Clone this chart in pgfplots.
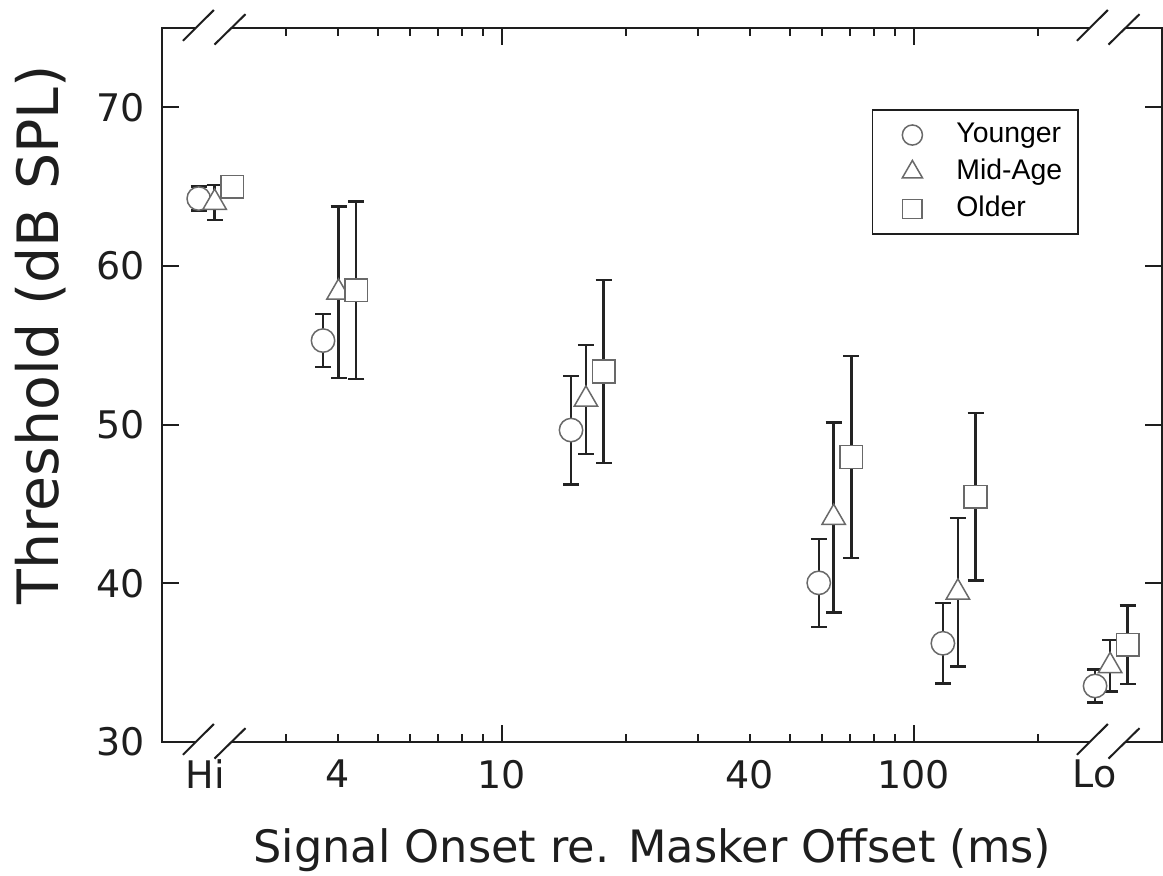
\documentclass[border=0pt]{standalone}
\usepackage{fontspec}
\setmainfont{DejaVu Sans}
\newfontfamily\legfont{Liberation Sans}
\usepackage{pgfplots}
\pgfplotsset{compat=1.18}
\usepackage{pgfplotstable}
\definecolor{axcol}{RGB}{30,30,30}
\definecolor{ebcol}{RGB}{35,35,35}
\definecolor{mkcol}{RGB}{105,105,105}

% x = signal onset (ms, Hi/Lo placed at break positions), y = threshold, e = error
\pgfplotstableread{
x y e
1.837 64.25 0.76
3.681 55.30 1.67
14.73 49.66 3.42
58.85 40.03 2.78
117.8 36.22 2.53
275.9 33.53 1.05
}\young
\pgfplotstableread{
x y e
2.008 64.00 1.12
4.014 58.34 5.41
16.01 51.59 3.43
63.97 44.14 5.99
128.1 39.43 4.68
300.1 34.80 1.63
}\mid
\pgfplotstableread{
x y e
2.214 65.00 0.50
4.432 58.47 5.60
17.68 53.35 5.78
70.60 47.96 6.38
141.4 45.45 5.28
331.1 36.13 2.47
}\old

\pgfplotsset{
  mylegimg/.style={legend image code/.code={
    \path[draw=none, fill=none] (-12pt,-6pt) rectangle (6pt,6pt);
    \draw[##1, every mark/.append style={scale=0.86}] plot coordinates {(0pt,0pt)};}},
  ebars/.style={forget plot, only marks, mark=none,
    error bars/.cd, y dir=both, y explicit, error mark=-,
    error bar style={line width=1.2pt, ebcol},
    error mark options={rotate=90, line width=1.2pt, ebcol, mark size=4pt}},
}

\begin{document}
\begin{tikzpicture}
\useasboundingbox (-81.25pt,-67pt) rectangle (500.25pt,371pt);
\begin{axis}[
  at={(0pt,0pt)}, anchor=south west,
  scale only axis, width=499.5pt, height=357pt,
  xmode=log, xmin=1.5, xmax=400, ymin=30, ymax=75,
  axis line style={line width=1pt, axcol},
  tick style={line width=1pt, axcol},
  major tick length=8.5pt, minor tick length=4pt,
  xtick={10,100}, xticklabels={10,100},
  minor xtick={3,4,5,6,7,8,9,20,30,40,50,60,70,80,90,200},
  extra x ticks={1.907,4,40,275.3},
  extra x tick labels={Hi,4,40,Lo},
  extra x tick style={major tick length=0pt},
  ytick={30,40,50,60,70}, yticklabels={30,40,50,60,70},
  minor ytick={},
  ticklabel style={font=\fontsize{19}{22}\selectfont, text=axcol},
  xticklabel style={yshift=-5.4pt},
  yticklabel style={xshift=-5.4pt},
  xlabel={Signal Onset re. Masker Offset (ms)},
  ylabel={Threshold (dB SPL)},
  xlabel style={at={(axis description cs:0.4905,-0.1681)}, anchor=base,
    font=\fontsize{22.3}{26}\selectfont, text=axcol},
  ylabel style={at={(axis description cs:-0.1046,0.570)}, anchor=base,
    font=\fontsize{28.5}{32}\selectfont, text=axcol},
  legend style={at={(0.7099,0.8861)}, anchor=north west, draw=axcol,
    line width=0.7pt, inner xsep=8pt, inner ysep=5.5pt, row sep=4.5pt,
    font=\legfont\fontsize{14.2}{17}\selectfont,
    nodes={inner sep=0pt, text height=10.5pt, text depth=3.5pt},
    /tikz/every odd column/.append style={column sep=16pt}},
  legend cell align=left,
]
\addplot[ebars] table[x=x, y=y, y error=e]{\young};
\addplot[ebars] table[x=x, y=y, y error=e]{\mid};
\addplot[ebars] table[x=x, y=y, y error=e]{\old};

\addplot[only marks, mark=*, mark size=5.85pt,
  mark options={fill=white, draw=mkcol, line width=0.75pt}, mylegimg]
  table[x=x, y=y]{\young};
\addlegendentry{Younger}
\addplot[only marks, mark=triangle*, mark size=6.75pt,
  mark options={fill=white, draw=mkcol, line width=0.75pt}, mylegimg]
  table[x=x, y=y]{\mid};
\addlegendentry{Mid-Age}
\addplot[only marks, mark=square*, mark size=5.65pt,
  mark options={fill=white, draw=mkcol, line width=0.75pt}, mylegimg]
  table[x=x, y=y]{\old};
\addlegendentry{Older}
\end{axis}
% axis breaks
\foreach \yy in {0pt,357pt}{
  \fill[white] (16.6pt,\yy-1.6pt) rectangle (34.5pt,\yy+1.6pt);
  \fill[white] (463.6pt,\yy-1.6pt) rectangle (481.5pt,\yy+1.6pt);
  \draw[line width=1pt, axcol] (10.2pt,\yy-6.4pt) -- (25.7pt,\yy+9.0pt);
  \draw[line width=1pt, axcol] (26pt,\yy-8.3pt) -- (41.5pt,\yy+6.9pt);
  \draw[line width=1pt, axcol] (457.2pt,\yy-6.4pt) -- (472.7pt,\yy+9.0pt);
  \draw[line width=1pt, axcol] (473pt,\yy-8.3pt) -- (488.5pt,\yy+6.9pt);
}
\end{tikzpicture}
\end{document}
